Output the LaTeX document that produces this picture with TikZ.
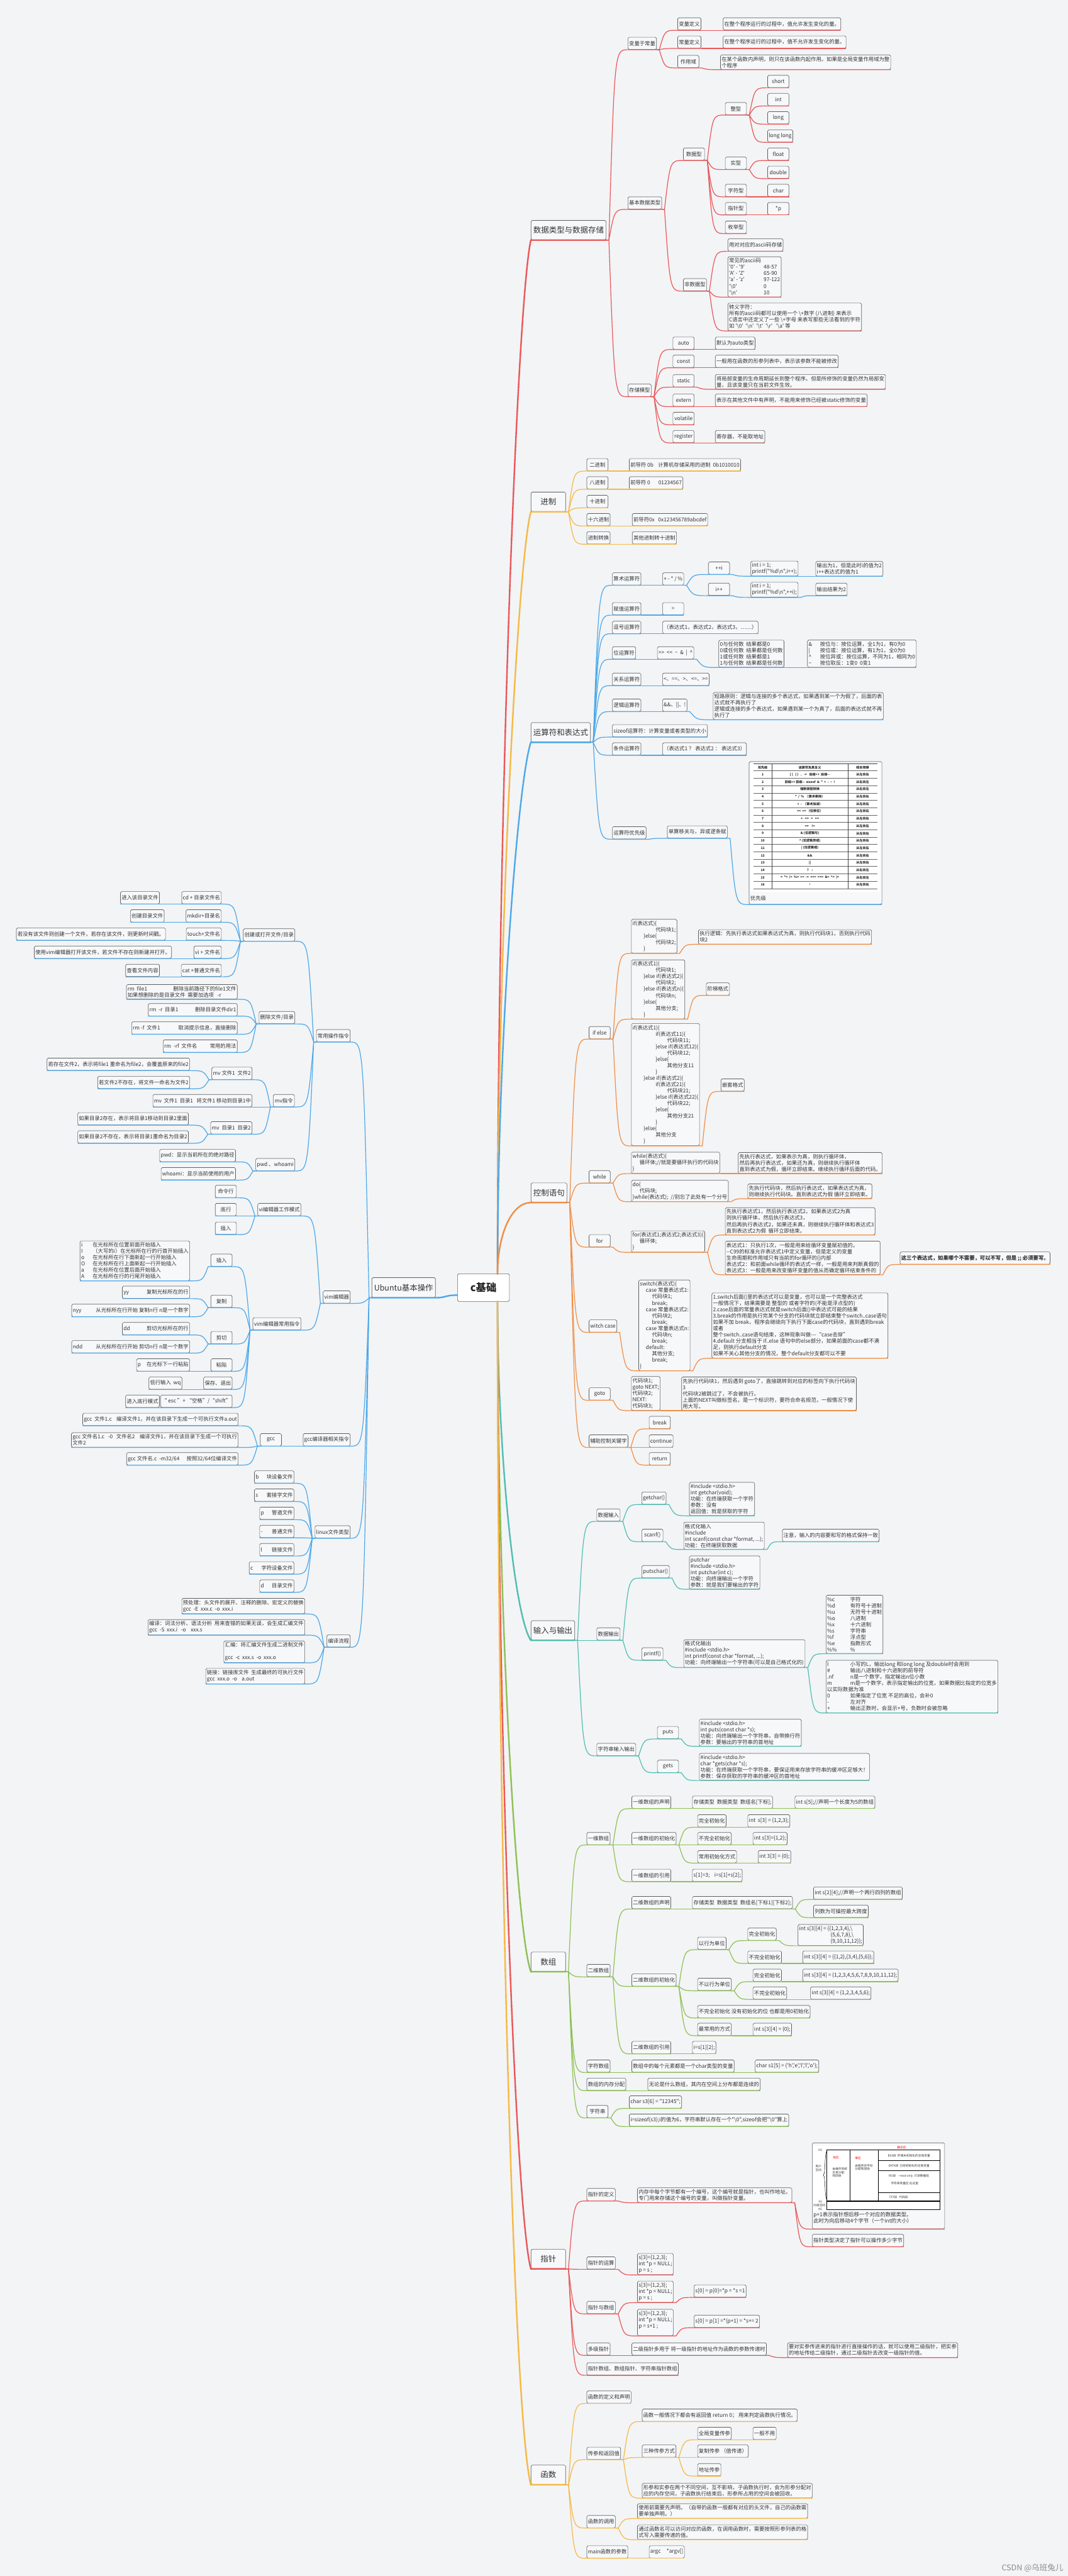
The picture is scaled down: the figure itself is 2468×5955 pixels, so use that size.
\documentclass[tikz,border=0pt]{standalone}
\usepackage{fontspec}
\setmainfont{Noto Sans CJK SC}[Ligatures=TeXOff]
\usetikzlibrary{calc}

\definecolor{bgc}{RGB}{243,244,246}
\definecolor{boxfill}{RGB}{247,248,250}
\definecolor{boxline}{RGB}{95,95,95}
\definecolor{txt}{RGB}{51,51,51}
\definecolor{cRed}{RGB}{233,88,90}
\definecolor{cYel}{RGB}{245,185,70}
\definecolor{cBlu}{RGB}{76,168,232}
\definecolor{cOra}{RGB}{239,142,68}
\definecolor{cTea}{RGB}{79,190,178}
\definecolor{cGrn}{RGB}{141,193,84}

\newcommand\fs{\fontsize{6.9}{8.3}\selectfont}
\newcommand\tb[2]{\makebox[#1][l]{#2}}
\newcommand\ind[1]{\hspace*{#1em}}
\newcommand\bsl{\textbackslash}

% parent -> children links (right side / left side)
\newcommand\kids[3]{\foreach \ch in {#3} {\draw[link=#1] (#2.south east) -- ++(6,0) to[kid] (\ch.south west) -- (\ch.south east);}}
\newcommand\lkids[3]{\foreach \ch in {#3} {\draw[link=#1] (#2.south west) -- ++(-6,0) to[kid] (\ch.south east) -- (\ch.south west);}}

\tikzset{
	box/.style={draw=boxline, fill=boxfill, rounded corners=1.6pt, line width=0.55pt, text=txt, font=\fs, align=left, inner xsep=1.5pt, inner ysep=2.2pt, minimum height=5.7mm, minimum width=9.8mm},
	rbox/.style={box, anchor=south west},
	lbox/.style={box, anchor=south east},
	topic/.style={box, anchor=south west, font=\fontsize{10.3}{12}\selectfont, minimum height=9mm, minimum width=16mm, inner xsep=3pt},
	link/.style={draw=#1, line width=1pt},
	trunk/.style={draw=#1, line width=2pt, line cap=round},
	kid/.style={to path={let \p1=(\tikztostart), \p2=(\tikztotarget) in .. controls ({\x1+0.3*(\x2-\x1)},\y2) .. (\tikztotarget)}},
	tcell/.style={font=\fontsize{4.2}{5}\selectfont\bfseries, inner sep=0, text=black!85},
	memt/.style={font=\fontsize{3.9}{4.6}\selectfont, inner sep=0, align=left, text=black!80},
}

\begin{document}
\begin{tikzpicture}[x=0.2mm, y=-0.2mm]

\useasboundingbox (0,0) rectangle (2468,5955);
\fill[bgc] (0,0) rectangle (2468,5955);

% root and main topics
\node[box, anchor=south west, fill=white, minimum width=24mm, minimum height=12.8mm, font=\fontsize{13.5}{16}\selectfont\bfseries, text=black!85] (root) at (1057,3009) {c基础};
\coordinate (rup) at (1150,2945);
\coordinate (rdn) at (1150,3009);
\coordinate (rlf) at (1057,2994);

\node[topic] (dt) at (1227,555) {数据类型与数据存储};
\node[topic] (jz) at (1227,1183) {进制};
\node[topic] (ys) at (1227,1716) {运算符和表达式};
\node[topic] (kz) at (1227,2780) {控制语句};
\node[topic] (io) at (1227,3792) {输入与输出};
\node[topic] (sz) at (1227,4558) {数组};
\node[topic] (zz7) at (1227,5245) {指针};
\node[topic] (hs) at (1227,5744) {函数};
\node[topic, anchor=south east, minimum height=9.2mm] (ub) at (1007,3000) {Ubuntu基本操作};

% data types and storage
\node[rbox] (bl) at (1451,115) {变量于常量};
\node[rbox] (bl1) at (1566,70) {变量定义};
\node[rbox] (bl1x) at (1671,70) {在整个程序运行的过程中，值允许发生变化的量。};
\node[rbox] (bl2) at (1566,112) {常量定义};
\node[rbox] (bl2x) at (1671,112) {在整个程序运行的过程中，值不允许发生变化的量。};
\node[rbox] (bl3) at (1566,157) {作用域};
\node[rbox] (bl3x) at (1665,161) {在某个函数内声明，则只在该函数内起作用。如果是全局变量作用域为整\\个程序};
\node[rbox] (jb) at (1451,484) {基本数据类型};
\node[rbox] (sj) at (1579,371) {数据型};
\node[rbox] (zx) at (1676,266) {整型};
\node[rbox] (short) at (1774,203) {short};
\node[rbox] (int) at (1774,245) {int};
\node[rbox] (long) at (1774,287) {long};
\node[rbox] (ll) at (1774,329) {long long};
\node[rbox] (sx) at (1676,392) {实型};
\node[rbox] (flt) at (1774,371) {float};
\node[rbox] (dbl) at (1774,413) {double};
\node[rbox] (zf) at (1676,455) {字符型};
\node[rbox] (chr) at (1774,455) {char};
\node[rbox] (zz) at (1676,497) {指针型};
\node[rbox] (ptr) at (1774,497) {*p};
\node[rbox] (mj) at (1676,540) {枚举型};
\node[rbox] (fsj) at (1579,673) {非数据型};
\node[rbox] (asc) at (1682,581) {用对对应的ascii码存储};
\node[rbox] (asct) at (1682,687) {常见的ascii码\\\tb{6.6em}{'0' - '9'}48-57\\\tb{6.6em}{'A' - 'Z'}65-90\\\tb{6.6em}{'a' - 'z'}97-122\\\tb{6.6em}{'\bsl0'}0\\\tb{6.6em}{'\bsl n'}10};
\node[rbox] (esc) at (1682,765) {转义字符：\\所有的ascii码都可以使用一个 \bsl+数字 (八进制) 来表示\\C语言中还定义了一些 \bsl+字母 来表写那些无法看到的字符\\如 '\bsl0'\ \ '\bsl n'\ \ '\bsl t'\ \ '\bsl r'\ \ \ '\bsl a' 等};
\node[rbox] (cc) at (1451,917) {存储模型};
\node[rbox] (auto) at (1555,808) {auto};
\node[rbox] (autox) at (1653,808) {默认为auto类型};
\node[rbox] (cst) at (1555,850) {const};
\node[rbox] (cstx) at (1653,850) {一般用在函数的形参列表中，表示该参数不能被修改};
\node[rbox] (stc) at (1555,895) {static};
\node[rbox] (stcx) at (1653,900) {将局部变量的生命周期延长到整个程序。但是所修饰的变量仍然为局部变\\量，且该变量只在当前文件生效。};
\node[rbox] (ext) at (1555,940) {extern};
\node[rbox] (extx) at (1653,940) {表示在其他文件中有声明，不能用来修饰已经被static修饰的变量};
\node[rbox] (vol) at (1555,982) {volatile};
\node[rbox] (reg) at (1555,1024) {register};
\node[rbox] (regx) at (1653,1024) {寄存器，不能取地址};

% number systems
\node[rbox] (b2) at (1356,1089) {二进制};
\node[rbox] (b2x) at (1454,1089) {前导符 0b\ \ \ \ 计算机存储采用的进制\ \ 0b1010010};
\node[rbox] (b8) at (1356,1131) {八进制};
\node[rbox] (b8x) at (1454,1131) {前导符 0\ \ \ \ \ \ \ 01234567};
\node[rbox] (b10) at (1356,1174) {十进制};
\node[rbox] (b16) at (1356,1216) {十六进制};
\node[rbox] (b16x) at (1461,1216) {前导符0x\ \ \ 0x123456789abcdef};
\node[rbox] (bzh) at (1356,1258) {进制转换};
\node[rbox] (bzhx) at (1461,1258) {其他进制转十进制};

% operators
\node[rbox] (ss) at (1415,1353) {算术运算符};
\node[rbox] (ssx) at (1531,1353) {+ - * / \%};
\node[rbox] (pi) at (1637,1328) {++i};
\node[rbox] (pic) at (1735,1332) {int i = 1;\\printf("\%d\bsl n",i++);};
\node[rbox] (pir) at (1885,1332) {输出为1，但是此时i的值为2\\i++表达式的值为1};
\node[rbox] (ip) at (1637,1377) {i++};
\node[rbox] (ipc) at (1735,1381) {int i = 1;\\printf("\%d\bsl n",++i);};
\node[rbox] (ipr) at (1885,1377) {输出结果为2};
\node[rbox] (fz) at (1415,1422) {赋值运算符};
\node[rbox] (fzx) at (1531,1422) {=};
\node[rbox] (dh) at (1415,1465) {逗号运算符};
\node[rbox] (dhx) at (1531,1465) {（表达式1，表达式2，表达式3，……）};
\node[rbox] (ww) at (1415,1524) {位运算符};
\node[rbox] (wwx) at (1519,1524) {>{}>\ \ <{}<\ \ \textasciitilde\ \ \&\ \ |\ \ \textasciicircum};
\node[rbox] (wwa) at (1661,1543) {0与任何数\ \ 结果都是0\\0或任何数\ \ 结果都是任何数\\1或任何数\ \ 结果都是1\\1与任何数\ \ 结果都是任何数};
\node[rbox] (wwb) at (1866,1543) {\tb{2.2em}{\&}按位与：按位运算，全1为1，有0为0\\\tb{2.2em}{|}按位或：按位运算，有1为1，全0为0\\\tb{2.2em}{\textasciicircum}按位异或：按位运算，不同为1，相同为0\\\tb{2.2em}{\textasciitilde}按位取反：1变0\ \ 0变1};
\node[rbox] (gx) at (1415,1585) {关系运算符};
\node[rbox] (gxx) at (1531,1585) {<、==、>、<=、>=};
\node[rbox] (lj) at (1415,1645) {逻辑运算符};
\node[rbox] (ljx) at (1531,1645) {\&\&、||、!};
\node[rbox] (ljy) at (1648,1664) {短路原则：逻辑与连接的多个表达式，如果遇到某一个为假了，后面的表\\达式就不再执行了\\逻辑或连接的多个表达式，如果遇到某一个为真了，后面的表达式就不再\\执行了};
\node[rbox] (szf) at (1415,1704) {sizeof运算符：计算变量或者类型的大小};
\node[rbox] (tj) at (1415,1746) {条件运算符};
\node[rbox] (tjx) at (1531,1746) {（表达式1 ？ 表达式2 ： 表达式3）};
\node[rbox] (yxj) at (1415,1940) {运算符优先级};
\node[rbox] (yxjx) at (1542,1938) {单算移关与，异或逻条赋};
\node[rbox, minimum width=61.4mm, minimum height=66mm] (tbl) at (1731,2091) {};

% precedence table picture
\fill[white] (1735,1765) rectangle (2034,2062);
\draw[black!75, line width=0.4pt] (1742,1766) -- (2028,1766);
\foreach \r in {0,...,16} {
	\draw[black!60, line width=0.4pt] (1742,{1782+17*\r}) -- (2028,{1782+17*\r});
}
\draw[black!75, line width=0.4pt] (1784,1766) -- (1784,2054);
\draw[black!75, line width=0.4pt] (1960,1766) -- (1960,2054);
\node[tcell] (th1) at (1763,1774) {优先级};
\node[tcell] (th2) at (1872,1774) {运算符及其含义};
\node[tcell] (th3) at (1994,1774) {结合规律};
\foreach \i/\op/\dir in {
	1/{[\,]\ \ \ (\,)\ \ \ .\ \ \ ->\ \ \ 后缀++\ \ 后缀-{}-}/{从左向右},
	2/{前缀++\ 前缀-{}-\ \ sizeof\ \ \&\ \ *\ \ +\ \ -\ \ \textasciitilde\ \ !}/{从右向左},
	3/{强制类型转换}/{从右向左},
	4/{*\ \ /\ \ \%\ \ （算术乘除）}/{从左向右},
	5/{+\ \ -\ \ （算术加减）}/{从左向右},
	6/{<{}<\ \ >{}>\ （位移位）}/{从左向右},
	7/{<\ \ \ <=\ \ \ >\ \ \ >=}/{从左向右},
	8/{==\ \ \ \ !=}/{从左向右},
	9/{\&\ (位逻辑与)}/{从左向右},
	10/{\textasciicircum\ (位逻辑异或)}/{从左向右},
	11/{|\ (位逻辑或)}/{从左向右},
	12/{\&\&}/{从左向右},
	13/{||}/{从左向右},
	14/{?\ \ \ \ :}/{从右向左},
	15/{=\ \ *=\ \ /=\ \ \%=\ \ +=\ \ -=\ \ <{}<=\ \ >{}>=\ \ \&=\ \ \textasciicircum=\ \ |=}/{从右向左},
	16/{,}/{从左向右}} {
	\node[tcell] (pr\i) at (1763,{1773.5+17*\i}) {\i};
	\node[tcell] (op\i) at (1872,{1773.5+17*\i}) {\op};
	\node[tcell] (as\i) at (1994,{1773.5+17*\i}) {\dir};
}
\node[anchor=west, inner sep=0, font=\fs, text=txt] (tblcap) at (1734,2076) {优先级};

% control statements
\node[rbox] (ife) at (1361,2402) {if else};
\node[rbox] (if1) at (1459,2204) {if(表达式)\{\\\ind{4.4}代码块1;\\\ind{2.1}\}else\{\\\ind{4.4}代码块2;\\\ind{2.1}\}};
\node[rbox] (if1x) at (1614,2183) {执行逻辑：先执行表达式如果表达式为真，则执行代码块1，否则执行代码\\块2};
\node[rbox] (if2) at (1459,2356) {if(表达式1)\{\\\ind{4.4}代码块1;\\\ind{2.1}\}else if(表达式2)\{\\\ind{4.4}代码块2;\\\ind{2.1}\}else if(表达式n)\{\\\ind{4.4}代码块n;\\\ind{2.1}\}else\{\\\ind{4.4}其他分支;\\\ind{2.1}\}};
\node[rbox] (if2x) at (1632,2301) {阶梯格式};
\node[rbox] (if3) at (1459,2649) {if(表达式1)\{\\\ind{4.4}if(表达式11)\{\\\ind{6.6}代码块11;\\\ind{4.4}\}else if(表达式12)\{\\\ind{6.6}代码块12;\\\ind{4.4}\}else\{\\\ind{6.6}其他分支11\\\ind{4.4}\}\\\ind{2.1}\}else if(表达式2)\{\\\ind{4.4}if(表达式21)\{\\\ind{6.6}代码块21;\\\ind{4.4}\}else if(表达式22)\{\\\ind{6.6}代码块22;\\\ind{4.4}\}else\{\\\ind{6.6}其他分支21\\\ind{4.4}\}\\\ind{2.1}\}else\{\\\ind{4.4}其他分支\\\ind{2.1}\}};
\node[rbox] (if3x) at (1666,2523) {嵌套格式};
\node[rbox] (wh) at (1361,2735) {while};
\node[rbox] (wh1) at (1459,2713) {while(表达式)\{\\\ind{1.35}循环体;//就是要循环执行的代码块\\\}};
\node[rbox] (wh1x) at (1706,2713) {先执行表达式，如果表示为真，则执行循环体，\\然后再执行表达式，如果还为真，则继续执行循环体\\直到表达式为假，循环立即结束。继续执行循环后面的代码。};
\node[rbox] (wh2) at (1459,2778) {do\{\\\ind{1.35}代码块;\\\}while(表达式);\ \ //别忘了此处有一个分号};
\node[rbox] (wh2x) at (1728,2771) {先执行代码块，然后执行表达式，如果表达式为真，\\则继续执行代码块。直到表达式为假 循环立即结束。};
\node[rbox] (fr) at (1361,2883) {for};
\node[rbox] (fr1) at (1459,2895) {for(表达式1;表达式2;表达式3)\{\\\ind{1.35}循环体;\\\}};
\node[rbox] (fr1a) at (1676,2855) {先执行表达式1，然后执行表达式2，如果表达式2为真\\则执行循环体，然后执行表达式3，\\然后再执行表达式2，如果还未真，则继续执行循环体和表达式3\\直到表达式2为假\ \ 循环立即结束。};
\node[rbox] (fr1b) at (1676,2947) {表达式1：只执行1次，一般是用来给循环变量赋初值的。\\-{}-C99的标准允许表达式1中定义变量，但是定义的变量\\生命周期和作用域只有当前的for循环的\{\}内部\\表达式2：和前面while循环的表达式一样，一般是用来判断真假的\\表达式3：一般是用来改变循环变量的值从而确定循环结束条件的};
\node[rbox, font=\fs\bfseries] (fr1c) at (2080,2923) {这三个表达式，如果哪个不需要，可以不写，但是\ ;;\ 必须要写。};
\node[rbox] (sw) at (1361,3080) {witch case};
\node[rbox] (sw1) at (1476,3169) {switch(表达式)\{\\\ind{1.15}case 常量表达式1:\\\ind{2.3}代码块1;\\\ind{2.3}break;\\\ind{1.15}case 常量表达式2:\\\ind{2.3}代码块2;\\\ind{2.3}break;\\\ind{1.15}case 常量表达式n:\\\ind{2.3}代码块n;\\\ind{2.3}break;\\\ind{1.15}default:\\\ind{2.3}其他分支;\\\ind{2.3}break;\\\}};
\node[rbox] (sw1x) at (1645,3140) {1.switch后面()里的表达式可以是变量，也可以是一个完整表达式\\一般情况下，结果需要是 整型的 或者字符的(不能是浮点型的)\\2.case后面的常量表达式就是switch后面()中表达式可能的结果\\3.break的作用是执行完某个分支的代码块就立即结束整个switch..case语句\\如果不加 break，程序会继续向下执行下面case的代码块，直到遇到break\\或者\\整个switch..case语句结束，这种现象叫做-{}-{}-“case击穿”\\4.default 分支相当于 if..else 语句中的else部分，如果前面的case都不满\\足，则执行default分支\\如果不关心其他分支的情况，整个default分支都可以不要};
\node[rbox] (gt) at (1361,3237) {goto};
\node[rbox] (gt1) at (1459,3261) {代码块1;\\goto NEXT;\\代码块2;\\NEXT:\\代码块3;};
\node[rbox] (gt1x) at (1575,3261) {先执行代码块1，然后遇到 goto了，直接跳转到对应的标签向下执行代码块\\3\\代码块2被跳过了，不会被执行。\\上面的NEXT叫做标签名，是一个标识符，要符合命名规范，一般情况下使\\用大写。};
\node[rbox] (fz2) at (1361,3346) {辅助控制关键字};
\node[rbox] (brk) at (1500,3303) {break};
\node[rbox] (cnt) at (1500,3346) {continue};
\node[rbox] (ret) at (1500,3387) {return};

% input and output
\node[rbox] (din) at (1379,3517) {数据输入};
\node[rbox] (gch) at (1483,3478) {getchar()};
\node[rbox] (gchx) at (1593,3504) {\#include <stdio.h>\\int getchar(void);\\功能：在终端获取一个字符\\参数：没有\\返回值：就是获取的字符};
\node[rbox] (scf) at (1483,3564) {scanf()};
\node[rbox] (scfx) at (1580,3582) {格式化输入\\\#include\\int scanf(const char *format, ...);\\功能：在终端获取数据};
\node[rbox] (scfy) at (1808,3564) {注意，输入的内容要和写的格式保持一致};
\node[rbox] (dout) at (1379,3792) {数据输出};
\node[rbox] (pch) at (1483,3648) {putschar()};
\node[rbox] (pchx) at (1593,3674) {putchar\\\#include <stdio.h>\\int putchar(int c);\\功能：向终端输出一个字符\\参数：就是我们要输出的字符};
\node[rbox] (ptf) at (1483,3838) {printf()};
\node[rbox] (ptfx) at (1580,3855) {格式化输出\\\#include <stdio.h>\\int printf(const char *format, ...);\\功能：向终端输出一个字符串(可以是自己格式化的)};
\node[rbox] (ptfa) at (1909,3823) {\tb{4.4em}{\%c}字符\\\tb{4.4em}{\%d}有符号十进制\\\tb{4.4em}{\%u}无符号十进制\\\tb{4.4em}{\%o}八进制\\\tb{4.4em}{\%x}十六进制\\\tb{4.4em}{\%s}字符串\\\tb{4.4em}{\%f}浮点型\\\tb{4.4em}{\%e}指数形式\\\tb{4.4em}{\%\%}\%};
\node[rbox] (ptfb) at (1909,3960) {\tb{4.4em}{l}小写的L，输出long 和long long 及double时会用到\\\tb{4.4em}{\#}输出八进制和十六进制的前导符\\\tb{4.4em}{.nf}n是一个数字，指定输出n位小数\\\tb{4.4em}{m}m是一个数字，表示指定输出的位宽，如果数据比指定的位宽多\\以实际数据为准\\\tb{4.4em}{0}如果指定了位宽 不足的高位，会补0\\\tb{4.4em}{-}左对齐\\\tb{4.4em}{+}输出正数时，会显示+号，负数时会被忽略};
\node[rbox] (sio) at (1379,4059) {字符串输入输出};
\node[rbox] (puts) at (1519,4020) {puts};
\node[rbox] (putsx) at (1616,4037) {\#include <stdio.h>\\int puts(const char *s);\\功能：向终端输出一个字符串，自带换行符\\参数：要输出的字符串的首地址};
\node[rbox] (gets) at (1519,4098) {gets};
\node[rbox] (getsx) at (1616,4116) {\#include <stdio.h>\\char *gets(char *s);\\功能：在终端获取一个字符串，要保证用来存放字符串的缓冲区足够大！\\参数：保存获取的字符串的缓冲区的首地址};

% arrays
\node[rbox] (yw) at (1356,4265) {一维数组};
\node[rbox] (yw1) at (1460,4181) {一维数组的声明};
\node[rbox] (yw1x) at (1600,4181) {存储类型\ \ 数据类型\ \ 数组名[下标];};
\node[rbox] (yw1y) at (1837,4181) {int s[5];//声明一个长度为5的数组};
\node[rbox] (yw2) at (1460,4265) {一维数组的初始化};
\node[rbox] (yw2a) at (1612,4224) {完全初始化};
\node[rbox] (yw2ax) at (1728,4224) {int\ \ s[3] = \{1,2,3\};};
\node[rbox] (yw2b) at (1612,4265) {不完全初始化};
\node[rbox] (yw2bx) at (1740,4265) {int s[3]=\{1,2\};};
\node[rbox] (yw2c) at (1612,4307) {常用初始化方式};
\node[rbox] (yw2cx) at (1752,4307) {int 3[3] = \{0\};};
\node[rbox] (yw3) at (1460,4350) {一维数组的引用};
\node[rbox] (yw3x) at (1600,4350) {s[1]=3;\ \ \ \ i=s[1]+s[2];};
\node[rbox] (ew) at (1356,4570) {二维数组};
\node[rbox] (ew1) at (1460,4413) {二维数组的声明};
\node[rbox] (ew1x) at (1600,4413) {存储类型\ \ 数据类型\ \ 数组名[下标1][下标2];};
\node[rbox] (ew1a) at (1880,4391) {int s[2][4];//声明一个两行四列的数组};
\node[rbox] (ew1b) at (1880,4433) {列数为可操控最大跨度};
\node[rbox] (ew2) at (1460,4592) {二维数组的初始化};
\node[rbox] (ew2a) at (1612,4507) {以行为单位};
\node[rbox] (ew2a1) at (1728,4486) {完全初始化};
\node[rbox] (ew2a1x) at (1844,4498) {int s[3][4] = \{\{1,2,3,4\},\bsl\\\ind{6}\{5,6,7,8\},\bsl\\\ind{6}\{9,10,11,12\}\};};
\node[rbox] (ew2a2) at (1728,4539) {不完全初始化};
\node[rbox] (ew2a2x) at (1855,4539) {int s[3][4] = \{\{1,2\},\{3,4\},\{5,6\}\};};
\node[rbox] (ew2b) at (1612,4602) {不以行为单位};
\node[rbox] (ew2b1) at (1740,4581) {完全初始化};
\node[rbox] (ew2b1x) at (1855,4581) {int s[3][4] = \{1,2,3,4,5,6,7,8,9,10,11,12\};};
\node[rbox] (ew2b2) at (1740,4622) {不完全初始化};
\node[rbox] (ew2b2x) at (1873,4622) {int s[3][4] = \{1,2,3,4,5,6\};};
\node[rbox] (ew2c) at (1612,4665) {不完全初始化 没有初始化的位 也都是用0初始化};
\node[rbox] (ew2d) at (1612,4706) {最常用的方式};
\node[rbox] (ew2dx) at (1740,4706) {int s[3][4] = \{0\};};
\node[rbox] (ew3) at (1460,4748) {二维数组的引用};
\node[rbox] (ew3x) at (1600,4748) {i=s[1][2];};
\node[rbox] (zfsz) at (1356,4791) {字符数组};
\node[rbox] (zfszx) at (1460,4791) {数组中的每个元素都是一个char类型的变量};
\node[rbox] (zfszy) at (1745,4791) {char s1[5] = \{'h','e','l','l','o'\};};
\node[rbox] (nc) at (1356,4833) {数组的内存分配};
\node[rbox] (ncx) at (1497,4833) {无论是什么数组，其内在空间上分布都是连续的};
\node[rbox] (zfc) at (1356,4896) {字符串};
\node[rbox] (zfca) at (1454,4874) {char s3[6] = "12345";};
\node[rbox] (zfcb) at (1454,4916) {i=sizeof(s3);i的值为6，字符串默认存在一个"\bsl0",sizeof会把"\bsl0"算上};

% pointers
\node[rbox] (zd) at (1356,5088) {指针的定义};
\node[rbox] (zdx) at (1473,5092) {内存中每个字节都有一个编号，这个编号就是指针，也叫作地址。\\专门用来存储这个编号的变量，叫做指针变量。};
\node[rbox, minimum width=61.2mm, minimum height=39.8mm] (mem) at (1877,5153) {};
\node[rbox] (zdy) at (1877,5194) {指针类型决定了指针可以操作多少字节};
\node[rbox] (zy) at (1356,5246) {指针的运算};
\node[rbox] (zyx) at (1473,5259) {s[3]=\{1,2,3\};\\int *p = NULL;\\p = s ;};
\node[rbox] (zs) at (1356,5349) {指针与数组};
\node[rbox] (zsa) at (1473,5323) {s[3]=\{1,2,3\};\\int *p = NULL;\\p = s ;};
\node[rbox] (zsa1) at (1604,5311) {s[0] = p[0]=*p = *s =1};
\node[rbox] (zsb) at (1473,5400) {s[3]=\{1,2,3\};\\int *p = NULL;\\p = s+1 ;\\\mbox{}};
\node[rbox] (zsb1) at (1604,5381) {s[0] = p[1] =*(p+1) = *s+= 2};
\node[rbox] (dj) at (1356,5445) {多级指针};
\node[rbox] (djx) at (1460,5445) {二级指针多用于 将一级指针的地址作为函数的参数传递时};
\node[rbox] (djy) at (1820,5450) {要对实参传进来的指针进行直接操作的话，就可以使用二级指针，把实参\\的地址传给二级指针，通过二级指针去改变一级指针的值。};
\node[rbox] (zsz) at (1356,5491) {指针数组、数组指针、字符串指针数组};

% memory layout picture
\fill[white] (1880,4960) rectangle (2180,5110);
\draw[black, line width=0.4pt] (1911,4970) rectangle (2172,5088);
\draw[black, line width=0.4pt] (1911,5089) rectangle (2172,5107);
\draw[black, line width=0.4pt] (1964,4970) -- (1964,5088);
\draw[black, line width=0.4pt] (2030,4970) -- (2030,5088);
\draw[black, line width=0.4pt] (2030,4994) -- (2172,4994);
\draw[black, line width=0.4pt] (2030,5017) -- (2172,5017);
\draw[black, line width=0.4pt] (2030,5068) -- (2172,5068);
\draw[black, line width=0.4pt] (1912,4972) .. controls (1905,4974) and (1909,5026) .. (1903,5028) .. controls (1909,5030) and (1905,5083) .. (1912,5085);
\node[memt] (m1) at (1896,4970) {0G};
\node[memt, align=center] (m2) at (1892,5012) {用户\\空间};
\node[memt] (m3) at (1896,5090) {3G};
\node[memt] (m4) at (1894,5098) {内核空间};
\node[memt] (m5) at (1896,5107) {4G};
\node[memt, text=red] (m6) at (2084,4965) {静态区};
\node[memt, text=red, anchor=west] (m7) at (1925,4988) {栈区};
\node[memt, anchor=west] (m8) at (1924,5022) {由操作系统\\负责分配\\和回收};
\node[memt, text=red, anchor=west] (m9) at (1976,4989) {堆区};
\node[memt, anchor=west] (m10) at (1976,5010) {由程序员手动\\分配和回收};
\node[memt] (m11) at (2101,4984) {BSS段\ \ 存储未初始化的全局变量};
\node[memt] (m12) at (2101,5007) {DATA段\ \ 已经初始化的全局变量};
\node[memt] (m13) at (2101,5031) {RO段\ \ \ -{}-read only\ \ 只读数据段};
\node[memt] (m14) at (2091,5048) {字符串常量区 在这里};
\node[memt] (m15) at (2077,5080) {TXT段\ \ \ 代码段};
\node[anchor=north west, inner sep=0, font=\fs, text=txt, align=left] (memcap) at (1880,5114) {p+1表示指针想后移一个对应的数据类型。\\此时为向后移动4个字节（一个int的大小）};

% functions
\node[rbox] (hs1) at (1356,5556) {函数的定义和声明};
\node[rbox] (hs2) at (1356,5686) {传参和返回值};
\node[rbox] (hs2a) at (1484,5598) {函数一般情况下都会有返回值 return 0；\ 用来判定函数执行情况。};
\node[rbox] (hs2b) at (1484,5681) {三种传参方式};
\node[rbox] (cc1) at (1612,5640) {全局变量传参};
\node[rbox] (cc1x) at (1740,5640) {一般不用};
\node[rbox] (cc2) at (1612,5681) {复制传参 （值传递）};
\node[rbox] (cc3) at (1612,5724) {地址传参};
\node[rbox] (hs2c) at (1484,5775) {形参和实参在两个不同空间，互不影响，子函数执行时，会为形参分配对\\应的内存空间，子函数执行结束后，形参所占用的空间会被回收。};
\node[rbox] (hs3) at (1356,5844) {函数的调用};
\node[rbox] (hs3a) at (1473,5822) {使用前需要先声明。（自带的函数一般都有对应的头文件，自己的函数需\\要单独声明。）};
\node[rbox] (hs3b) at (1473,5871) {通过函数名可以访问对应的函数，在调用函数时，需要按照形参列表的格\\式写入需要传递的值。};
\node[rbox] (hs4) at (1356,5914) {main函数的参数};
\node[rbox] (hs4x) at (1500,5914) {argc\ \ \ \ \ *argv[]};

% Ubuntu basics (left side)
\node[lbox] (cy) at (810,2409) {常用操作指令};
\node[lbox] (cj) at (682,2176) {创建或打开文件/目录};
\node[lbox] (cd) at (512,2090) {cd + 目录文件名};
\node[lbox] (cdx) at (369,2090) {进入该目录文件};
\node[lbox] (mk) at (512,2132) {mkdir+目录名};
\node[lbox] (mkx) at (380,2132) {创建目录文件};
\node[lbox] (tc) at (512,2174) {touch+文件名};
\node[lbox] (tcx) at (383,2174) {若没有该文件则创建一个文件，若存在该文件，则更新时间戳。};
\node[lbox] (vi) at (512,2216) {vi + 文件名};
\node[lbox] (vix) at (397,2216) {使用vim编辑器打开该文件，若文件不存在则新建并打开。};
\node[lbox] (ct) at (512,2258) {cat +普通文件名};
\node[lbox] (ctx) at (369,2258) {查看文件内容};
\node[lbox] (sc) at (682,2367) {删除文件/目录};
\node[lbox] (rm1) at (549,2310) {\tb{8.7em}{rm\ \ file1}删除当前路径下的file1文件\\如果想删除的是目录文件\ \ 需要加选项\ \ \ -r};
\node[lbox] (rm2) at (549,2349) {\tb{8.7em}{rm\ \ -r\ \ 目录1}删除目录文件dir1};
\node[lbox] (rm3) at (549,2391) {\tb{8.7em}{rm -f\ \ 文件1}取消提示信息，直接删除};
\node[lbox] (rm4) at (549,2433) {\tb{8.7em}{rm\ \ -rf\ \ 文件名}常用的用法};
\node[lbox] (mv) at (681,2559) {mv指令};
\node[lbox] (mv1) at (583,2496) {mv 文件1\ \ 文件2};
\node[lbox] (mv1a) at (439,2475) {若存在文件2，表示将file1 重命名为file2，会覆盖原来的file2};
\node[lbox] (mv1b) at (439,2517) {若文件2不存在，将文件一命名为文件2};
\node[lbox] (mv2) at (583,2559) {mv\ \ 文件1\ \ 目录1\ \ \ 将文件1 移动到目录1中};
\node[lbox] (mv3) at (583,2622) {mv\ \ 目录1\ \ 目录2};
\node[lbox] (mv3a) at (436,2601) {如果目录2存在，表示将目录1移动到目录2里面};
\node[lbox] (mv3b) at (436,2643) {如果目录2不存在，表示将目录1重命名为目录2};
\node[lbox] (pw) at (682,2707) {pwd 、whoami};
\node[lbox] (pwa) at (545,2686) {pwd：显示当前所在的绝对路径};
\node[lbox] (pwb) at (545,2728) {whoami：显示当前使用的用户};
\node[lbox] (vim) at (810,3013) {vim编辑器};
\node[lbox] (gz) at (696,2811) {vi编辑器工作模式};
\node[lbox] (ml) at (547,2769) {命令行};
\node[lbox] (dh2) at (547,2811) {底行};
\node[lbox] (cr) at (547,2854) {插入};
\node[lbox] (cy2) at (696,3075) {vim编辑器常用指令};
\node[lbox] (ins) at (537,2928) {插入};
\node[lbox] (insx) at (439,2961) {\tb{2.2em}{i}在光标所在位置前面开始插入\\\tb{2.2em}{I}（大写的i）在光标所在行的行首开始插入\\\tb{2.2em}{o}在光标所在行下面新起一行开始插入\\\tb{2.2em}{O}在光标所在行上面新起一行开始插入\\\tb{2.2em}{a}在光标所在位置后面开始插入\\\tb{2.2em}{A}在光标所在行的行尾开始插入};
\node[lbox] (cp) at (537,3023) {复制};
\node[lbox] (cpa) at (439,3002) {\tb{4.4em}{yy}复制光标所在的行};
\node[lbox] (cpb) at (439,3044) {\tb{4.4em}{nyy}从光标所在行开始 复制n行 n是一个数字};
\node[lbox] (cut) at (537,3107) {剪切};
\node[lbox] (cuta) at (439,3086) {\tb{4.4em}{dd}剪切光标所在的行};
\node[lbox] (cutb) at (439,3128) {\tb{4.4em}{ndd}从光标所在行开始 剪切n行 n是一个数字};
\node[lbox] (ps) at (537,3170) {粘贴};
\node[lbox] (psx) at (439,3170) {\tb{1.7em}{p}在光标下一行粘贴};
\node[lbox] (sv) at (537,3212) {保存、退出};
\node[lbox] (svx) at (421,3212) {低行输入\ \ wq};
\node[lbox] (es) at (537,3254) {“ esc ”+ “空格”/“shift”};
\node[lbox] (esx) at (369,3254) {进入底行模式};
\node[lbox] (gccz) at (810,3343) {gcc编译器相关指令};
\node[lbox] (gcc) at (651,3343) {gcc};
\node[lbox] (g1) at (551,3296) {gcc\ \ 文件1.c\ \ \ \ 编译文件1，并在该目录下生成一个可执行文件a.out};
\node[lbox] (g2) at (551,3346) {gcc 文件名1.c\ \ \ -0\ \ \ 文件名2\ \ \ \ 编译文件1，并在该目录下生成一个可执行\\文件2};
\node[lbox] (g3) at (551,3387) {gcc 文件名.c\ \ -m32/64\ \ \ \ \ \ 按照32/64位编译文件};
\node[lbox] (lx) at (810,3556) {linux文件类型};
\node[lbox] (f1) at (680,3429) {\tb{2.1em}{b}块设备文件};
\node[lbox] (f2) at (680,3471) {\tb{2.1em}{s}套接字文件};
\node[lbox] (f3) at (680,3513) {\tb{2.1em}{p}管道文件};
\node[lbox] (f4) at (680,3555) {\tb{2.1em}{-}普通文件};
\node[lbox] (f5) at (680,3597) {\tb{2.1em}{l}链接文件};
\node[lbox] (f6) at (680,3639) {\tb{2.1em}{c}字符设备文件};
\node[lbox] (f7) at (680,3681) {\tb{2.1em}{d}目录文件};
\node[lbox] (by) at (810,3808) {编译流程};
\node[lbox] (by1) at (705,3731) {预处理：头文件的展开、注释的删除、宏定义的替换\\gcc\ \ -E\ \ xxx.c\ \ -o\ \ xxx.i};
\node[lbox] (by2) at (705,3780) {编译：词法分析、语法分析\ \ 用来查错的如果无误，会生成汇编文件\\gcc\ \ -S\ \ xxx.i\ \ \ -o\ \ \ \ xxx.s};
\node[lbox] (by3) at (705,3844) {汇编：将汇编文件生成二进制文件\\\mbox{}\\gcc\ \ -c\ \ xxx.s\ \ -o\ \ xxx.o};
\node[lbox] (by4) at (705,3893) {链接：链接库文件\ \ 生成最终的可执行文件\\gcc\ \ xxx.o\ \ -o\ \ \ \ a.out};

\node[anchor=east, inner sep=0, font=\fontsize{10.4}{12}\selectfont, text=black!45] (csdn) at (2458,5937) {CSDN @乌班兔儿};

% trunks from the root
\draw[trunk=cRed] (rup) .. controls +(0,-1045) and +(-32,145) .. (dt.south west) -- (dt.south east);
\draw[trunk=cYel] (rup) .. controls +(0,-770) and +(-30,110) .. (jz.south west) -- (jz.south east);
\draw[trunk=cBlu] (rup) .. controls +(0,-540) and +(-30,90) .. (ys.south west) -- (ys.south east);
\draw[trunk=cOra] (rup) .. controls +(0,-90) and +(-45,0) .. (kz.south west) -- (kz.south east);
\draw[trunk=cTea] (rdn) .. controls +(0,330) and +(-40,-60) .. (io.south west) -- (io.south east);
\draw[trunk=cGrn] (rdn) .. controls +(0,700) and +(-35,-100) .. (sz.south west) -- (sz.south east);
\draw[trunk=cRed] (rdn) .. controls +(0,1000) and +(-35,-130) .. (zz7.south west) -- (zz7.south east);
\draw[trunk=cYel] (rdn) .. controls +(0,1200) and +(-40,-150) .. (hs.south west) -- (hs.south east);
\draw[trunk=cBlu] (rlf) .. controls +(-30,0) and +(25,0) .. (ub.south east) -- (ub.south west);

% branch links
\kids{cRed}{dt}{bl,jb,cc}
\kids{cRed}{bl}{bl1,bl2,bl3}
\kids{cRed}{bl1}{bl1x}
\kids{cRed}{bl2}{bl2x}
\kids{cRed}{bl3}{bl3x}
\kids{cRed}{jb}{sj,fsj}
\kids{cRed}{sj}{zx,sx,zf,zz,mj}
\kids{cRed}{zx}{short,int,long,ll}
\kids{cRed}{sx}{flt,dbl}
\kids{cRed}{zf}{chr}
\kids{cRed}{zz}{ptr}
\kids{cRed}{fsj}{asc,asct,esc}
\kids{cRed}{cc}{auto,cst,stc,ext,vol,reg}
\foreach \a/\b in {auto/autox,cst/cstx,stc/stcx,ext/extx,reg/regx} {
	\draw[link=cRed] (\a.south east) -- ++(6,0) to[kid] (\b.south west) -- (\b.south east);
}

\kids{cYel}{jz}{b2,b8,b10,b16,bzh}
\foreach \a/\b in {b2/b2x,b8/b8x,b16/b16x,bzh/bzhx} {
	\draw[link=cYel] (\a.south east) -- ++(6,0) to[kid] (\b.south west) -- (\b.south east);
}

\kids{cBlu}{ys}{ss,fz,dh,ww,gx,lj,szf,tj,yxj}
\kids{cBlu}{ssx}{pi,ip}
\foreach \a/\b in {ss/ssx,pi/pic,pic/pir,ip/ipc,ipc/ipr,fz/fzx,dh/dhx,ww/wwx,wwx/wwa,wwa/wwb,gx/gxx,lj/ljx,ljx/ljy,tj/tjx,yxj/yxjx,yxjx/tbl} {
	\draw[link=cBlu] (\a.south east) -- ++(6,0) to[kid] (\b.south west) -- (\b.south east);
}

\kids{cOra}{kz}{ife,wh,fr,sw,gt,fz2}
\kids{cOra}{ife}{if1,if2,if3}
\kids{cOra}{wh}{wh1,wh2}
\kids{cOra}{fr1}{fr1a,fr1b}
\kids{cOra}{fz2}{brk,cnt,ret}
\foreach \a/\b in {if1/if1x,if2/if2x,if3/if3x,wh1/wh1x,wh2/wh2x,fr/fr1,fr1b/fr1c,sw/sw1,sw1/sw1x,gt/gt1,gt1/gt1x} {
	\draw[link=cOra] (\a.south east) -- ++(6,0) to[kid] (\b.south west) -- (\b.south east);
}

\kids{cTea}{io}{din,dout,sio}
\kids{cTea}{din}{gch,scf}
\kids{cTea}{dout}{pch,ptf}
\kids{cTea}{ptfx}{ptfa,ptfb}
\kids{cTea}{sio}{puts,gets}
\foreach \a/\b in {gch/gchx,scf/scfx,scfx/scfy,pch/pchx,ptf/ptfx,puts/putsx,gets/getsx} {
	\draw[link=cTea] (\a.south east) -- ++(6,0) to[kid] (\b.south west) -- (\b.south east);
}

\kids{cGrn}{sz}{yw,ew,zfsz,nc,zfc}
\kids{cGrn}{yw}{yw1,yw2,yw3}
\kids{cGrn}{yw2}{yw2a,yw2b,yw2c}
\kids{cGrn}{ew}{ew1,ew2,ew3}
\kids{cGrn}{ew1x}{ew1a,ew1b}
\kids{cGrn}{ew2}{ew2a,ew2b,ew2c,ew2d}
\kids{cGrn}{ew2a}{ew2a1,ew2a2}
\kids{cGrn}{ew2b}{ew2b1,ew2b2}
\kids{cGrn}{zfc}{zfca,zfcb}
\foreach \a/\b in {yw1/yw1x,yw1x/yw1y,yw2a/yw2ax,yw2b/yw2bx,yw2c/yw2cx,yw3/yw3x,ew1/ew1x,ew2a1/ew2a1x,ew2a2/ew2a2x,ew2b1/ew2b1x,ew2b2/ew2b2x,ew2d/ew2dx,ew3/ew3x,zfsz/zfszx,zfszx/zfszy,nc/ncx} {
	\draw[link=cGrn] (\a.south east) -- ++(6,0) to[kid] (\b.south west) -- (\b.south east);
}

\kids{cRed}{zz7}{zd,zy,zs,dj,zsz}
\kids{cRed}{zdx}{mem,zdy}
\kids{cRed}{zs}{zsa,zsb}
\foreach \a/\b in {zd/zdx,zy/zyx,zsa/zsa1,zsb/zsb1,dj/djx,djx/djy} {
	\draw[link=cRed] (\a.south east) -- ++(6,0) to[kid] (\b.south west) -- (\b.south east);
}

\kids{cYel}{hs}{hs1,hs2,hs3,hs4}
\kids{cYel}{hs2}{hs2a,hs2b,hs2c}
\kids{cYel}{hs2b}{cc1,cc2,cc3}
\kids{cYel}{hs3}{hs3a,hs3b}
\kids{cYel}{cc1}{cc1x}
\kids{cYel}{hs4}{hs4x}

\lkids{cBlu}{ub}{cy,vim,gccz,lx,by}
\lkids{cBlu}{cy}{cj,sc,mv,pw}
\lkids{cBlu}{cj}{cd,mk,tc,vi,ct}
\lkids{cBlu}{sc}{rm1,rm2,rm3,rm4}
\lkids{cBlu}{mv}{mv1,mv2,mv3}
\lkids{cBlu}{mv1}{mv1a,mv1b}
\lkids{cBlu}{mv3}{mv3a,mv3b}
\lkids{cBlu}{pw}{pwa,pwb}
\lkids{cBlu}{vim}{gz,cy2}
\lkids{cBlu}{gz}{ml,dh2,cr}
\lkids{cBlu}{cy2}{ins,cp,cut,ps,sv,es}
\lkids{cBlu}{cp}{cpa,cpb}
\lkids{cBlu}{cut}{cuta,cutb}
\lkids{cBlu}{gccz}{gcc}
\lkids{cBlu}{gcc}{g1,g2,g3}
\lkids{cBlu}{lx}{f1,f2,f3,f4,f5,f6,f7}
\lkids{cBlu}{by}{by1,by2,by3,by4}
\foreach \a/\b in {cd/cdx,mk/mkx,tc/tcx,vi/vix,ct/ctx,ins/insx,ps/psx,sv/svx,es/esx} {
	\draw[link=cBlu] (\a.south west) -- ++(-6,0) to[kid] (\b.south east) -- (\b.south west);
}

\end{tikzpicture}
\end{document}
